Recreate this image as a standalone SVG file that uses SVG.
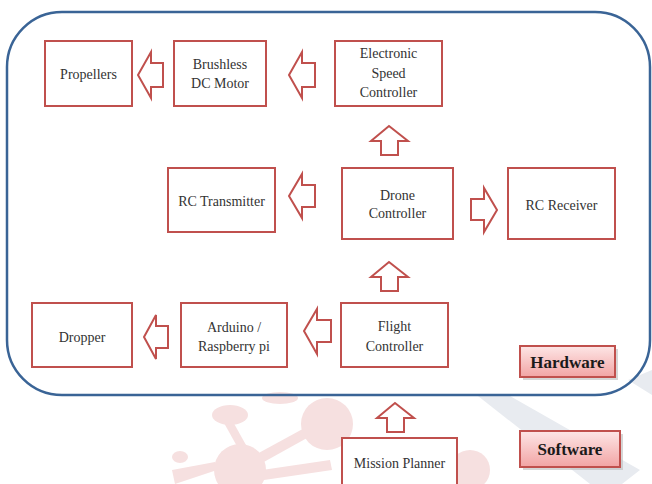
<svg xmlns="http://www.w3.org/2000/svg" width="652" height="484" viewBox="0 0 652 484">
<defs>
<style>
.box{fill:#fff;stroke:#c0504d;stroke-width:2}
.arr{fill:#fff;stroke:#c0504d;stroke-width:2;stroke-linejoin:miter}
.t{font-family:'Liberation Serif','Times New Roman',serif;font-size:14px;fill:#333;text-anchor:middle}
.lb{font-family:'Liberation Serif','Times New Roman',serif;font-size:17px;font-weight:bold;fill:#1a1a1a;text-anchor:middle}
.lab{fill:url(#pg);stroke:#c0504d;stroke-width:2}
.sh{fill:#bbb;opacity:0.6}
.wm{fill:#f6e0e0}
.wg{fill:#e8ebf0}
</style>
<linearGradient id="pg" x1="0" y1="0" x2="0" y2="1">
<stop offset="0" stop-color="#fde6e6"/>
<stop offset="1" stop-color="#f2a4a4"/>
</linearGradient>
</defs>
<rect width="652" height="484" fill="#fff"/>
<g id="watermark">
<path class="wg" d="M478 396 L510 396 L640 470 L622 484 L590 484 Z"/>
<path class="wg" d="M628 380 L652 370 L652 395 Z"/>
<g class="wm">
<ellipse cx="230" cy="415" rx="18" ry="10"/>
<circle cx="327" cy="424" r="26"/>
<circle cx="240" cy="470" r="26"/>
<ellipse cx="180" cy="457" rx="8" ry="6"/>
<path d="M232 420 L246 445 L238 448 L224 423 Z"/>
<path d="M255 455 L310 425 L316 433 L262 463 Z"/>
<path d="M262 470 L330 460 L332 470 L264 480 Z"/>
<path d="M172 470 L215 462 L217 470 L175 484 Z"/>
<ellipse cx="280" cy="398" rx="18" ry="6"/>
<circle cx="470" cy="470" r="20"/>
</g>
</g>
<rect x="7" y="12" width="643" height="383" rx="55" ry="55" fill="none" stroke="#3a6496" stroke-width="2.5"/>
<g id="connectors">
<path class="arr" d="M138 75 L151 52 L151 63 L163 63 L163 87 L151 87 L151 98 Z"/>
<path class="arr" d="M289 75 L302 52 L302 63 L315 63 L315 87 L302 87 L302 98 Z"/>
<path class="arr" d="M289 196 L302 174 L302 185 L315 185 L315 207 L302 207 L302 218 Z"/>
<path class="arr" d="M144 337 L156 315 L156 326 L168 326 L168 348 L156 348 L156 359 Z"/>
<path class="arr" d="M304 331 L317 309 L317 320 L331 320 L331 342 L317 342 L317 354 Z"/>
<path class="arr" d="M497 210 L484 188 L484 199 L471 199 L471 220 L484 220 L484 232 Z"/>
<path class="arr" d="M389 126 L408 141 L398 141 L398 155 L381 155 L381 141 L371 141 Z"/>
<path class="arr" d="M389 262 L408 277 L398 277 L398 291 L381 291 L381 277 L371 277 Z"/>
<path class="arr" d="M395 403 L414 418 L404 418 L404 432 L387 432 L387 418 L377 418 Z"/>
</g>
<g id="propellers"><rect class="box" x="45" y="41" width="87" height="65"/><text class="t" x="88.5" y="79">Propellers</text></g>
<g id="motor"><rect class="box" x="174" y="41" width="92" height="65"/><text class="t" x="220" y="69">Brushless</text><text class="t" x="220" y="88">DC Motor</text></g>
<g id="esc"><rect class="box" x="335" y="41" width="107" height="65"/><text class="t" x="388.5" y="58">Electronic</text><text class="t" x="388.5" y="78">Speed</text><text class="t" x="388.5" y="97">Controller</text></g>
<g id="transmitter"><rect class="box" x="168" y="168" width="107" height="64"/><text class="t" x="221.5" y="206">RC Transmitter</text></g>
<g id="drone"><rect class="box" x="342" y="168" width="111" height="71"/><text class="t" x="397.5" y="200">Drone</text><text class="t" x="397.5" y="218">Controller</text></g>
<g id="receiver"><rect class="box" x="508" y="168" width="107" height="71"/><text class="t" x="561.5" y="210">RC Receiver</text></g>
<g id="dropper"><rect class="box" x="32" y="303" width="100" height="64"/><text class="t" x="82" y="342">Dropper</text></g>
<g id="arduino"><rect class="box" x="181" y="303" width="106" height="64"/><text class="t" x="234" y="332">Arduino /</text><text class="t" x="234" y="351">Raspberry pi</text></g>
<g id="flight"><rect class="box" x="341" y="303" width="107" height="64"/><text class="t" x="394.5" y="331">Flight</text><text class="t" x="394.5" y="351">Controller</text></g>
<g id="mission"><rect class="box" x="342" y="438" width="115" height="60"/><text class="t" x="399.5" y="468">Mission Planner</text></g>
<g id="hardware"><rect class="sh" x="523" y="349" width="95" height="31"/><rect class="lab" x="520" y="346" width="95" height="31"/><text class="lb" x="567.5" y="368">Hardware</text></g>
<g id="software"><rect class="sh" x="523" y="434" width="100" height="36"/><rect class="lab" x="520" y="431" width="100" height="36"/><text class="lb" x="570" y="455">Software</text></g>
</svg>
